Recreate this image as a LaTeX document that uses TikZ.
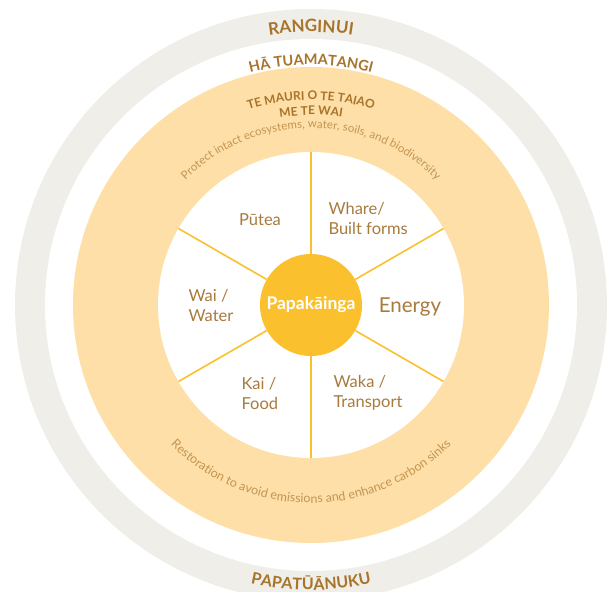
\documentclass[tikz,border=0pt]{standalone}
\usepackage{fontspec}
\setmainfont{Lato}
\usetikzlibrary{decorations.text}

\definecolor{skyband}{HTML}{EFEEE8}
\definecolor{taiao}{HTML}{FEDFA7}
\definecolor{kowhai}{HTML}{FBC02D}
\definecolor{titlebrown}{HTML}{A8732A}
\definecolor{labelbrown}{HTML}{A87B3E}
\definecolor{ringbrown}{HTML}{C39552}

\tikzset{
    sector/.style={text=labelbrown, font=\fontsize{16.5}{20}\selectfont, align=left, anchor=west},
    spoke/.style={draw=kowhai, line width=1.6pt},
}

\begin{document}
\begin{tikzpicture}[x=1pt, y=1pt]
            % the frame
            \useasboundingbox (-311, -287) rectangle (300, 305);
            \path[clip] (-311, -287) rectangle (300, 305);

            % the rings
            \fill[skyband] (0, 0) circle[radius=296pt];
            \fill[white] (0, 0) circle[radius=266pt];
            \fill[taiao] (0, 0) circle[radius=238pt];
            \fill[white] (0, 0) circle[radius=153pt];

            % the hub and the spokes
            \node[circle, fill=kowhai, minimum size=102pt, inner sep=0pt, text=white,
                font=\bfseries\fontsize{17.5}{20}\selectfont] (core) at (0, 0) {Papakāinga};
            \foreach \a in {30, 90, ..., 330} {
                \coordinate (rim\a) at (\a:153pt);
                \draw[spoke] (core.\a) -- (rim\a);
            };

            % the sectors
            \node[sector, anchor=center] (putea) at (-51, 85) {Pūtea};
            \node[sector] (whare) at (14, 87) {Whare/\\Built forms};
            \node[sector, anchor=center, font=\fontsize{20.5}{24}\selectfont] (energy) at (99, -2) {Energy};
            \node[sector] (wai) at (-126, 0) {Wai /\\Water};
            \node[sector] (kai) at (-73, -88) {Kai /\\Food};
            \node[sector] (waka) at (19, -88) {Waka /\\Transport};

            % curved texts, upper half
            \path[decorate, decoration={text along path, text align=center,
                text={|\color{titlebrown}\bfseries\fontsize{17}{18}\selectfont|RANGINUI}}]
                (150:273pt) arc[start angle=150, end angle=30, radius=273pt];
            \path[decorate, decoration={text along path, text align=center,
                text={|\color{titlebrown}\bfseries\fontsize{14.5}{16}\selectfont|HĀ TUAMATANGI}}]
                (150:240pt) arc[start angle=150, end angle=30, radius=240pt];
            \path[decorate, decoration={text along path, text align=center,
                text={|\color{titlebrown}\bfseries\fontsize{12}{14}\selectfont|TE MAURI O TE TAIAO}}]
                (150:205pt) arc[start angle=150, end angle=30, radius=205pt];
            \path[decorate, decoration={text along path, text align=center,
                text={|\color{titlebrown}\bfseries\fontsize{12}{14}\selectfont|ME TE WAI}}]
                (150:190pt) arc[start angle=150, end angle=30, radius=190pt];
            \path[decorate, decoration={text along path, text align=center,
                text={|\color{ringbrown}\fontsize{11.5}{13}\selectfont|Protect intact ecosystems, water, soils, and biodiversity}}]
                (160:177pt) arc[start angle=160, end angle=20, radius=177pt];

            % curved texts, lower half
            \path[decorate, decoration={text along path, text align=center,
                text={|\color{ringbrown}\fontsize{12.5}{14}\selectfont|Restoration to avoid emissions and enhance carbon sinks}}]
                (200:198pt) arc[start angle=200, end angle=340, radius=198pt];
            \path[decorate, decoration={text along path, text align=center,
                text={|\color{titlebrown}\bfseries\fontsize{16}{18}\selectfont|PAPATŪĀNUKU}}]
                (240:285pt) arc[start angle=240, end angle=300, radius=285pt];

        \end{tikzpicture}
\end{document}
